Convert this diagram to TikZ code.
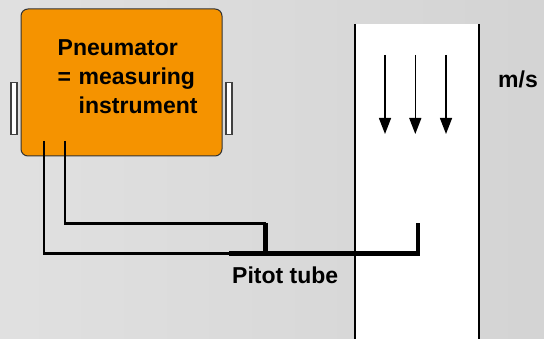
\documentclass[tikz,border=0pt]{standalone}
\usepackage{fontspec}
\setmainfont{Liberation Sans}
\usetikzlibrary{arrows.meta}
\definecolor{boxorange}{HTML}{F59300}
\tikzset{
  lbl/.style={inner sep=0pt,anchor=base west,font=\fontsize{23}{23}\selectfont\bfseries},
  wall/.style={line width=2.4pt,black},
  wire/.style={line width=2.4pt,black,line cap=butt,line join=miter},
  tube/.style={line width=4.5pt,black,line cap=butt,line join=miter},
  flow/.style={line width=1.4pt,black,-{Triangle[length=16pt,width=12pt]}},
  tab/.style={draw=black!75,fill=white,line width=1.1pt,minimum width=6pt,minimum height=52pt,inner sep=0pt},
}
\begin{document}
\begin{tikzpicture}[x=1pt,y=-1pt]
\useasboundingbox (0,0) rectangle (544,339);
\shade[left color=black!12,right color=black!17] (0,0) rectangle (544,339);
% channel
\fill[white] (355,24) rectangle (479,339);
\coordinate (wl1) at (355,24); \coordinate (wl2) at (355,339);
\coordinate (wr1) at (479,24); \coordinate (wr2) at (479,339);
\draw[wall] (wl1) -- (wl2);
\draw[wall] (wr1) -- (wr2);
% flow arrows
\foreach \n/\x in {a/385,b/415.3,c/446}{
  \coordinate (f\n1) at (\x,55); \coordinate (f\n2) at (\x,134);
  \draw[flow] (f\n1) -- (f\n2);
}
% tabs
\node[tab] (tabL) at (14,108.3) {};
\node[tab] (tabR) at (229,108.3) {};
% instrument
\node[draw=black!80,fill=boxorange,rounded corners=7pt,line width=1pt,minimum width=201pt,minimum height=147pt,inner sep=0pt] (box) at (121.5,82.5) {};
\node[lbl] (t1) at (57.5,55.5) {Pneumator};
\node[lbl] (t2) at (57.5,85) {=};
\node[lbl] (t3) at (78.5,85) {measuring};
\node[lbl] (t4) at (78.5,114) {instrument};
% wires
\coordinate (p1) at (44,141); \coordinate (p2) at (65,141);
\coordinate (j1) at (230,253.5); \coordinate (j2) at (265.5,223.5);
\coordinate (c1) at (44,253.5); \coordinate (c2) at (65,223.5);
\draw[wire] (p1) -- (c1) -- (j1);
\draw[wire] (p2) -- (c2) -- (j2);
% pitot tube
\coordinate (tA) at (229,253.5); \coordinate (tB) at (418,253.5); \coordinate (tC) at (418,223.5);
\coordinate (tD) at (265.5,223);
\draw[tube] (tA) -- (tB) -- (tC);
\draw[tube] (tD) -- (tD |- tA);
\node[lbl] (t5) at (232,284) {Pitot tube};
\node[lbl] (t6) at (498,88) {m/s};
\end{tikzpicture}
\end{document}
